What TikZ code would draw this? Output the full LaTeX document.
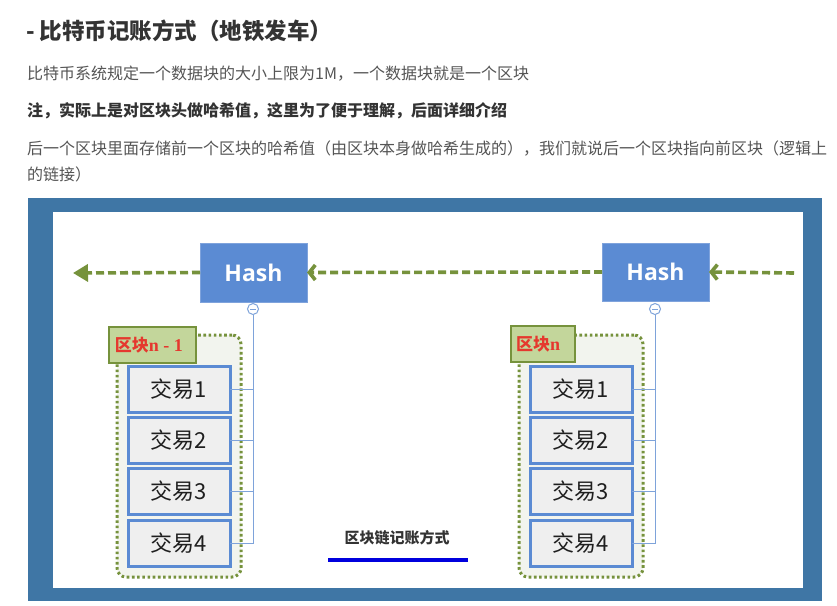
\documentclass[tikz,border=0pt]{standalone}
\usepackage{fontspec}
\setmainfont{Noto Sans CJK SC}
\newfontfamily\hashfont{Open Sans}
\newfontfamily\serifface{Liberation Serif}
\usetikzlibrary{arrows.meta}
\definecolor{frameblue}{HTML}{3F76A5}
\definecolor{hashblue}{HTML}{5B8BD3}
\definecolor{hashedge}{HTML}{7FA3DC}
\definecolor{olivegreen}{HTML}{76923C}
\definecolor{boxfill}{HTML}{F2F4EE}
\definecolor{labelfill}{HTML}{C3D69B}
\definecolor{labelred}{HTML}{E5382E}
\definecolor{txfill}{HTML}{EFEFEF}
\definecolor{txedge}{HTML}{5B8BD3}
\definecolor{linkblue}{HTML}{7EA3DA}
\definecolor{graytext}{HTML}{555555}
\definecolor{darktext}{HTML}{333333}
\definecolor{capblue}{HTML}{0000DD}
\tikzset{
  hashbox/.style={fill=hashblue, draw=hashedge, line width=0.8pt, minimum width=107pt, minimum height=59pt, inner sep=0pt, outer sep=0pt, text=white, font=\hashfont\bfseries\fontsize{23}{26}\selectfont},
  blockbox/.style={fill=boxfill, draw=olivegreen, line width=3pt, dash pattern=on 2.6pt off 2.6pt, rounded corners=9pt, minimum width=124pt, minimum height=242pt, inner sep=0pt, outer sep=0pt},
  blocklabel/.style={fill=labelfill, draw=olivegreen, line width=2.6pt, minimum height=36pt, inner sep=0pt, outer sep=0pt, text=labelred, font=\bfseries\fontsize{17}{19}\selectfont},
  txbox/.style={fill=txfill, draw=txedge, line width=3pt, minimum width=102pt, minimum height=46pt, inner sep=0pt, outer sep=0pt, text=black!88, font=\fontsize{22}{26}\selectfont},
  knob/.style={circle, draw=linkblue, fill=white, line width=1pt, minimum size=11pt, inner sep=0pt, outer sep=0pt, path picture={\draw[linkblue, line width=0.9pt] ([xshift=-2.8pt]path picture bounding box.center) -- ([xshift=2.8pt]path picture bounding box.center);}},
  link/.style={draw=linkblue, line width=1pt},
  chain/.style={draw=olivegreen, line width=3.6pt, dash pattern=on 8pt off 4pt},
  headline/.style={anchor=west, inner sep=0pt, font=\fontsize{16}{18}\selectfont, text=graytext}
}
\begin{document}
\begin{tikzpicture}[x=1pt,y=-1pt]
\useasboundingbox (0,0) rectangle (837,605);
\fill[white] (0,0) rectangle (837,605);
% header text
\node[headline, text=darktext, font=\bfseries\fontsize{22.5}{26}\selectfont] (title) at (26,31) {- 比特币记账方式（地铁发车）};
\node[headline] (p1) at (27,74) {比特币系统规定一个数据块的大小上限为1M，一个数据块就是一个区块};
\node[headline, text=darktext, font=\bfseries\fontsize{16}{18}\selectfont] (p2) at (27,111) {注，实际上是对区块头做哈希值，这里为了便于理解，后面详细介绍};
\node[headline] (p3) at (27,149) {后一个区块里面存储前一个区块的哈希值（由区块本身做哈希生成的），我们就说后一个区块指向前区块（逻辑上};
\node[headline] (p4) at (27,174) {的链接）};
% picture frame
\fill[frameblue] (28,198) rectangle (822,601);
\fill[white] (53,212) rectangle (803,588);
% blocks
\node[blockbox] (bL) at (179,456) {};
\node[blockbox] (bR) at (581,456) {};
\node[blocklabel, minimum width=87pt] (lL) at (152.5,345) {区块{\serifface\bfseries\fontsize{18}{19}\selectfont n - 1}\hspace*{7pt}};
\node[blocklabel, minimum width=64pt] (lR) at (543,344) {区块{\serifface\bfseries\fontsize{18}{19}\selectfont n}\hspace*{10pt}};
% transactions
\foreach \i/\y in {1/389,2/440,3/491,4/543.5}{
  \node[txbox] (tL\i) at (179,\y) {交易\i};
  \node[txbox] (tR\i) at (581,\y) {交易\i};
}
% hash boxes
\node[hashbox] (hL) at (253.5,272.5) {Hash};
\node[hashbox, minimum height=58pt] (hR) at (655.5,272) {Hash};
\node[knob] (kL) at (253,309) {};
\node[knob] (kR) at (655,309) {};
% tree links
\draw[link] (kL.south) -- (kL |- tL4.east);
\draw[link] (kR.south) -- (kR |- tR4.east);
\foreach \i in {1,2,3,4}{
  \draw[link] (tL\i.east) -- (kL |- tL\i.east);
  \draw[link] (tR\i.east) -- (kR |- tR\i.east);
}
% chain arrows
\coordinate (tipL) at (73,273);
\coordinate (tailR) at (794,273);
\draw[chain, -{Triangle[length=15pt,width=17pt]}] (hL.west) -- (tipL);
\draw[chain, -{Straight Barb[length=6pt,width=15pt]}] (hR.west) -- (hL.east);
\draw[chain, -{Straight Barb[length=6pt,width=15pt]}] (tailR) -- (hR.east);
% caption
\node[inner sep=0pt, font=\bfseries\fontsize{15}{18}\selectfont, text=darktext] (cap) at (397,538) {区块链记账方式};
\coordinate (ulA) at (328,560);
\coordinate (ulB) at (468,560);
\draw[capblue, line width=3.5pt] (ulA) -- (ulB);
\end{tikzpicture}
\end{document}
